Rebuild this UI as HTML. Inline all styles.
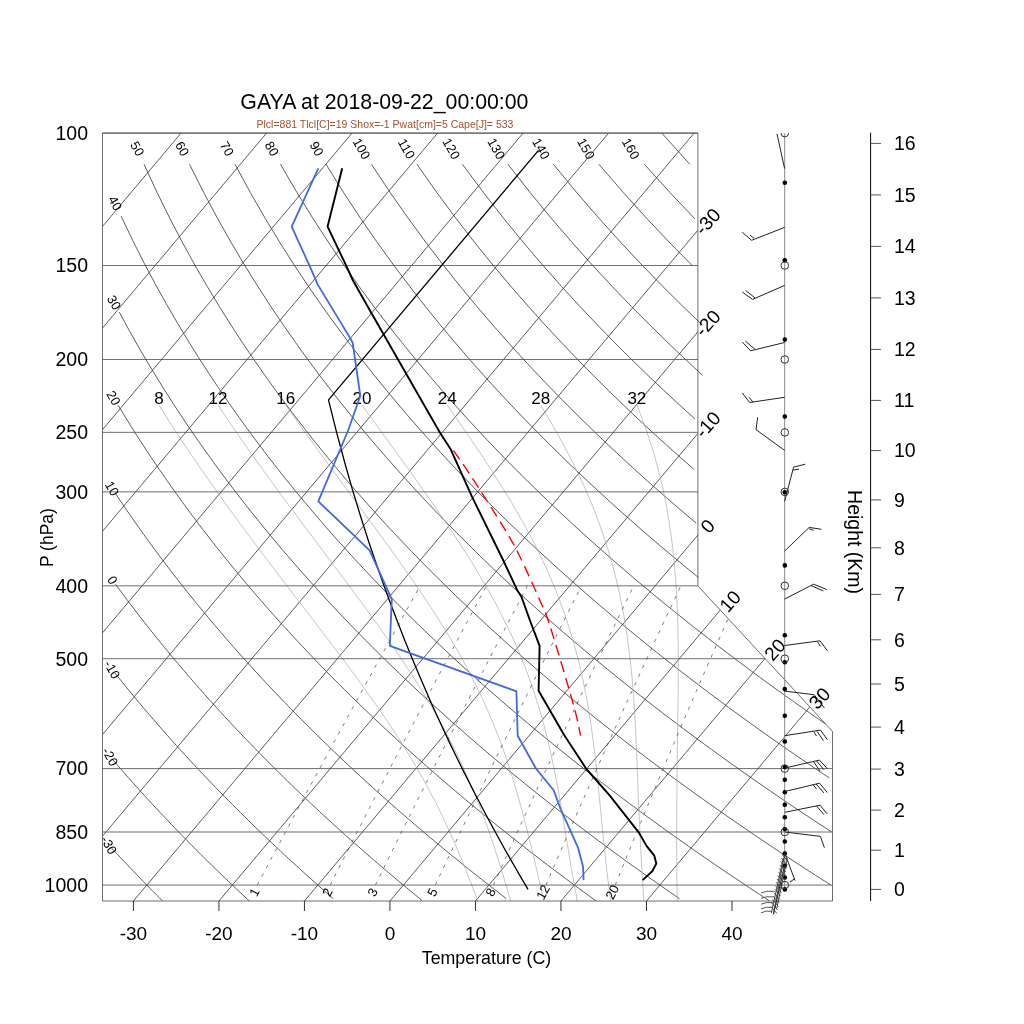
<!DOCTYPE html><html><head><meta charset="utf-8"><style>html,body{margin:0;padding:0;background:#fff;width:1024px;height:1024px;overflow:hidden}svg{display:block;will-change:transform}</style></head><body>
<svg width="1024" height="1024" viewBox="0 0 1024 1024" font-family="Liberation Sans, sans-serif">
<rect width="1024" height="1024" fill="#fff"/>
<g fill="none" stroke="#333" stroke-width="0.8">
<path d="M102.58 226.34 L180.94 133.22"/>
<path d="M102.62 327.90 L266.45 133.22"/>
<path d="M102.51 429.66 L351.96 133.22"/>
<path d="M102.55 531.22 L437.47 133.22"/>
<path d="M102.59 632.79 L522.98 133.22"/>
<path d="M102.63 734.35 L608.49 133.22"/>
<path d="M102.51 836.11 L694.00 133.22"/>
<path d="M133.42 901.00 L697.76 230.37"/>
<path d="M218.93 901.00 L697.80 331.93"/>
<path d="M304.44 901.00 L697.84 433.50"/>
<path d="M389.95 901.00 L697.89 535.06"/>
<path d="M475.46 901.00 L720.22 610.13"/>
<path d="M560.96 901.00 L765.02 658.51"/>
<path d="M646.47 901.00 L809.65 707.09"/>
<path d="M110.69 847.01 L114.06 850.66 L117.41 854.27 L120.74 857.84 L124.06 861.37 L127.36 864.86 L130.64 868.32 L133.91 871.74 L137.16 875.12 L140.40 878.47 L143.62 881.78 L146.82 885.07 L150.01 888.32 L153.19 891.53 L156.35 894.72 L159.50 897.87 L162.63 901.00"/>
<path d="M112.25 759.12 L116.35 763.89 L120.42 768.59 L124.47 773.22 L128.49 777.79 L132.49 782.29 L136.47 786.74 L140.42 791.12 L144.34 795.45 L148.25 799.71 L152.13 803.93 L155.99 808.09 L159.82 812.20 L163.64 816.25 L167.43 820.26 L171.20 824.22 L174.95 828.13 L178.68 831.99 L182.39 835.81 L186.08 839.59 L189.75 843.32 L193.40 847.01 L197.03 850.66 L200.64 854.27 L204.24 857.84 L207.81 861.37 L211.37 864.86 L214.91 868.32 L218.43 871.74 L221.93 875.12 L225.41 878.47 L228.88 881.78 L232.33 885.07 L235.77 888.32 L239.19 891.53 L242.59 894.72 L245.97 897.87 L249.34 901.00"/>
<path d="M114.72 672.77 L119.67 678.97 L124.58 685.05 L129.46 691.02 L134.30 696.88 L139.10 702.64 L143.87 708.30 L148.60 713.87 L153.30 719.34 L157.97 724.72 L162.60 730.01 L167.20 735.22 L171.76 740.34 L176.30 745.39 L180.80 750.36 L185.27 755.26 L189.72 760.08 L194.13 764.84 L198.52 769.52 L202.87 774.14 L207.20 778.69 L211.50 783.19 L215.77 787.62 L220.02 791.99 L224.24 796.30 L228.44 800.56 L232.61 804.76 L236.75 808.91 L240.87 813.01 L244.96 817.06 L249.03 821.06 L253.08 825.00 L257.11 828.91 L261.11 832.76 L265.09 836.57 L269.04 840.34 L272.98 844.06 L276.89 847.74 L280.78 851.38 L284.65 854.99 L288.50 858.55 L292.33 862.07 L296.14 865.55 L299.93 869.00 L303.70 872.42 L307.45 875.79 L311.18 879.14 L314.89 882.44 L318.58 885.72 L322.26 888.96 L325.91 892.17 L329.55 895.35 L333.17 898.50"/>
<path d="M115.50 584.20 L121.46 592.30 L127.37 600.21 L133.22 607.93 L139.02 615.48 L144.76 622.85 L150.45 630.06 L156.09 637.11 L161.68 644.01 L167.23 650.78 L172.72 657.40 L178.17 663.89 L183.57 670.26 L188.93 676.50 L194.24 682.63 L199.51 688.64 L204.74 694.55 L209.92 700.35 L215.07 706.05 L220.18 711.65 L225.24 717.16 L230.27 722.57 L235.26 727.90 L240.22 733.14 L245.13 738.30 L250.02 743.38 L254.86 748.38 L259.68 753.31 L264.46 758.16 L269.20 762.94 L273.92 767.65 L278.60 772.30 L283.25 776.88 L287.87 781.40 L292.46 785.85 L297.02 790.25 L301.55 794.58 L306.05 798.86 L310.53 803.09 L314.97 807.26 L319.39 811.38 L323.78 815.45 L328.14 819.46 L332.48 823.43 L336.79 827.35 L341.08 831.22 L345.34 835.05 L349.58 838.84 L353.79 842.58 L357.98 846.28 L362.15 849.93 L366.29 853.55 L370.41 857.13 L374.50 860.66 L378.58 864.16 L382.63 867.63 L386.66 871.05 L390.67 874.45 L394.65 877.80 L398.62 881.12 L402.57 884.41 L406.49 887.67 L410.40 890.89 L414.28 894.08 L418.15 897.25 L422.00 900.38"/>
<path d="M115.84 494.06 L122.98 504.70 L130.04 515.00 L137.02 524.99 L143.92 534.68 L150.74 544.09 L157.49 553.24 L164.17 562.14 L170.78 570.80 L177.31 579.24 L183.78 587.47 L190.19 595.49 L196.53 603.32 L202.81 610.97 L209.02 618.44 L215.18 625.75 L221.28 632.90 L227.32 639.89 L233.31 646.74 L239.24 653.44 L245.12 660.01 L250.94 666.45 L256.72 672.77 L262.45 678.97 L268.12 685.05 L273.75 691.02 L279.33 696.88 L284.87 702.64 L290.36 708.30 L295.81 713.87 L301.22 719.34 L306.58 724.72 L311.90 730.01 L317.18 735.22 L322.42 740.34 L327.62 745.39 L332.79 750.36 L337.91 755.26 L343.00 760.08 L348.06 764.84 L353.08 769.52 L358.06 774.14 L363.01 778.69 L367.92 783.19 L372.80 787.62 L377.65 791.99 L382.47 796.30 L387.26 800.56 L392.01 804.76 L396.73 808.91 L401.43 813.01 L406.09 817.06 L410.73 821.06 L415.34 825.00 L419.92 828.91 L424.47 832.76 L428.99 836.57 L433.49 840.34 L437.96 844.06 L442.41 847.74 L446.83 851.38 L451.22 854.99 L455.59 858.55 L459.94 862.07 L464.26 865.55 L468.56 869.00 L472.83 872.42 L477.08 875.79 L481.31 879.14 L485.51 882.44 L489.70 885.72 L493.86 888.96 L498.00 892.17 L502.12 895.35 L506.21 898.50"/>
<path d="M118.03 405.12 L126.49 419.02 L134.85 432.35 L143.09 445.16 L151.22 457.48 L159.25 469.36 L167.18 480.82 L175.00 491.89 L182.73 502.60 L190.36 512.97 L197.90 523.02 L205.35 532.76 L212.71 542.23 L219.99 551.43 L227.19 560.38 L234.30 569.09 L241.33 577.57 L248.29 585.84 L255.18 593.90 L261.99 601.77 L268.73 609.46 L275.40 616.96 L282.01 624.30 L288.54 631.48 L295.02 638.50 L301.43 645.38 L307.79 652.11 L314.08 658.71 L320.31 665.18 L326.49 671.52 L332.62 677.74 L338.68 683.84 L344.70 689.83 L350.66 695.72 L356.58 701.50 L362.44 707.18 L368.26 712.76 L374.03 718.25 L379.75 723.65 L385.42 728.96 L391.05 734.18 L396.64 739.32 L402.19 744.39 L407.69 749.37 L413.15 754.28 L418.57 759.12 L423.95 763.89 L429.29 768.59 L434.60 773.22 L439.86 777.79 L445.09 782.29 L450.28 786.74 L455.44 791.12 L460.56 795.45 L465.65 799.71 L470.71 803.93 L475.73 808.09 L480.72 812.20 L485.67 816.25 L490.60 820.26 L495.49 824.22 L500.35 828.13 L505.19 831.99 L509.99 835.81 L514.77 839.59 L519.51 843.32 L524.23 847.01 L528.92 850.66 L533.58 854.27 L538.22 857.84 L542.82 861.37 L547.41 864.86 L551.96 868.32 L556.50 871.74 L561.00 875.12 L565.48 878.47 L569.94 881.78 L574.37 885.07 L578.78 888.32 L583.17 891.53 L587.53 894.72 L591.87 897.87 L596.19 901.00"/>
<path d="M119.27 312.12 L129.26 330.47 L139.09 347.85 L148.77 364.34 L158.31 380.05 L167.70 395.03 L176.95 409.35 L186.07 423.08 L195.05 436.25 L203.90 448.91 L212.63 461.09 L221.24 472.84 L229.73 484.18 L238.10 495.14 L246.37 505.74 L254.53 516.01 L262.58 525.97 L270.54 535.63 L278.39 545.02 L286.15 554.14 L293.82 563.02 L301.40 571.66 L308.89 580.07 L316.30 588.28 L323.63 596.28 L330.87 604.10 L338.04 611.73 L345.14 619.18 L352.15 626.47 L359.10 633.60 L365.98 640.58 L372.79 647.41 L379.53 654.10 L386.21 660.66 L392.82 667.09 L399.38 673.40 L405.87 679.58 L412.30 685.65 L418.68 691.61 L425.00 697.46 L431.26 703.21 L437.47 708.86 L443.63 714.42 L449.74 719.88 L455.80 725.25 L461.80 730.53 L467.76 735.73 L473.67 740.85 L479.54 745.89 L485.36 750.85 L491.13 755.74 L496.86 760.56 L502.55 765.31 L508.20 769.99 L513.80 774.60 L519.37 779.15 L524.89 783.63 L530.38 788.06 L535.83 792.42 L541.24 796.73 L546.61 800.98 L551.95 805.18 L557.25 809.33 L562.52 813.42 L567.75 817.46 L572.94 821.45 L578.11 825.40 L583.24 829.29 L588.34 833.14 L593.41 836.95 L598.44 840.71 L603.45 844.43 L608.42 848.11 L613.37 851.75 L618.29 855.34 L623.17 858.90 L628.03 862.42 L632.86 865.90 L637.67 869.35 L642.44 872.75 L647.19 876.13 L651.91 879.47 L656.61 882.77 L661.28 886.05 L665.93 889.28 L670.55 892.49 L675.14 895.67 L679.71 898.82"/>
<path d="M121.17 216.28 L132.82 240.66 L144.29 263.35 L155.57 284.56 L166.66 304.48 L177.56 323.25 L188.27 341.01 L198.80 357.84 L209.16 373.85 L219.34 389.12 L229.36 403.70 L239.22 417.66 L248.93 431.04 L258.48 443.90 L267.89 456.27 L277.17 468.19 L286.30 479.69 L295.31 490.80 L304.19 501.54 L312.95 511.94 L321.59 522.02 L330.12 531.80 L338.54 541.30 L346.85 550.52 L355.06 559.49 L363.17 568.23 L371.18 576.73 L379.10 585.02 L386.92 593.10 L394.66 600.99 L402.31 608.69 L409.88 616.22 L417.36 623.58 L424.77 630.77 L432.10 637.81 L439.35 644.70 L446.53 651.44 L453.64 658.06 L460.68 664.53 L467.65 670.89 L474.55 677.12 L481.39 683.24 L488.17 689.24 L494.88 695.13 L501.54 700.92 L508.13 706.61 L514.67 712.21 L521.15 717.70 L527.58 723.11 L533.95 728.43 L540.27 733.66 L546.54 738.81 L552.76 743.89 L558.93 748.88 L565.05 753.80 L571.12 758.64 L577.15 763.42 L583.13 768.12 L589.07 772.76 L594.96 777.33 L600.81 781.85 L606.61 786.29 L612.38 790.68 L618.10 795.02 L623.79 799.29 L629.43 803.51 L635.04 807.67 L640.61 811.79 L646.14 815.85 L651.63 819.86 L657.09 823.82 L662.51 827.74 L667.90 831.61 L673.26 835.43 L678.58 839.21 L683.86 842.95 L689.12 846.64 L694.34 850.30 L699.53 853.91 L704.69 857.48 L709.82 861.02 L714.92 864.51 L719.99 867.97 L725.03 871.40 L730.04 874.78 L735.02 878.14 L739.97 881.45 L744.90 884.74 L749.80 887.99 L754.67 891.21 L759.52 894.40 L764.34 897.56 L769.13 900.69"/>
<path d="M144.03 164.25 L157.15 192.66 L170.05 218.80 L182.71 243.00 L195.13 265.53 L207.32 286.61 L219.27 306.41 L231.00 325.07 L242.51 342.73 L253.81 359.48 L264.91 375.41 L275.81 390.60 L286.52 405.12 L297.05 419.02 L307.41 432.35 L317.60 445.16 L327.63 457.48 L337.50 469.36 L347.22 480.82 L356.80 491.89 L366.24 502.60 L375.55 512.97 L384.73 523.02 L393.78 532.76 L402.71 542.23 L411.52 551.43 L420.22 560.38 L428.81 569.09 L437.30 577.57 L445.68 585.84 L453.97 593.90 L462.15 601.77 L470.24 609.46 L478.25 616.96 L486.16 624.30 L493.99 631.48 L501.73 638.50 L509.39 645.38 L516.97 652.11 L524.48 658.71 L531.91 665.18 L539.26 671.52 L546.55 677.74 L553.77 683.84 L560.91 689.83 L567.99 695.72 L575.01 701.50 L581.96 707.18 L588.85 712.76 L595.69 718.25 L602.46 723.65 L609.17 728.96 L615.83 734.18 L622.43 739.32 L628.98 744.39 L635.47 749.37 L641.92 754.28 L648.31 759.12 L654.65 763.89 L660.94 768.59 L667.19 773.22 L673.39 777.79 L679.54 782.29 L685.65 786.74 L691.71 791.12 L697.73 795.45 L703.70 799.71 L709.64 803.93 L715.53 808.09 L721.39 812.20 L727.20 816.25 L732.97 820.26 L738.71 824.22 L744.41 828.13 L750.07 831.99 L755.69 835.81 L761.28 839.59 L766.83 843.32 L772.35 847.01 L777.83 850.66 L783.28 854.27 L788.70 857.84 L794.08 861.37 L799.44 864.86 L804.76 868.32 L810.05 871.74 L815.31 875.12 L820.53 878.47 L825.73 881.78 L830.90 885.07"/>
<path d="M189.51 164.25 L203.78 192.66 L217.76 218.80 L231.44 243.00 L244.84 265.53 L257.95 286.61 L270.79 306.41 L283.36 325.07 L295.69 342.73 L307.78 359.48 L319.63 375.41 L331.27 390.60 L342.69 405.12 L353.91 419.02 L364.93 432.35 L375.77 445.16 L386.43 457.48 L396.92 469.36 L407.24 480.82 L417.40 491.89 L427.41 502.60 L437.28 512.97 L447.00 523.02 L456.59 532.76 L466.04 542.23 L475.37 551.43 L484.57 560.38 L493.65 569.09 L502.62 577.57 L511.48 585.84 L520.23 593.90 L528.87 601.77 L537.42 609.46 L545.86 616.96 L554.21 624.30 L562.47 631.48 L570.63 638.50 L578.71 645.38 L586.70 652.11 L594.61 658.71 L602.44 665.18 L610.19 671.52 L617.86 677.74 L625.46 683.84 L632.98 689.83 L640.44 695.72 L647.82 701.50 L655.14 707.18 L662.39 712.76 L669.57 718.25 L676.69 723.65 L683.75 728.96 L690.75 734.18 L697.69 739.32 L704.58 744.39 L711.40 749.37 L718.17 754.28 L724.89 759.12 L731.55 763.89 L738.16 768.59 L744.72 773.22 L751.23 777.79 L757.69 782.29 L764.10 786.74 L770.47 791.12 L776.78 795.45 L783.06 799.71 L789.28 803.93 L795.47 808.09 L801.61 812.20 L807.71 816.25 L813.76 820.26 L819.78 824.22 L825.76 828.13 L831.69 831.99"/>
<path d="M235.00 164.25 L250.41 192.66 L265.47 218.80 L280.17 243.00 L294.54 265.53 L308.58 286.61 L322.30 306.41 L335.73 325.07 L348.87 342.73 L361.74 359.48 L374.35 375.41 L386.72 390.60 L398.85 405.12 L410.76 419.02 L422.45 432.35 L433.94 445.16 L445.23 457.48 L456.33 469.36 L467.25 480.82 L478.00 491.89 L488.59 502.60 L499.01 512.97 L509.28 523.02 L519.39 532.76 L529.37 542.23 L539.21 551.43 L548.91 560.38 L558.49 569.09 L567.94 577.57 L577.28 585.84 L586.49 593.90 L595.59 601.77 L604.59 609.46 L613.48 616.96 L622.26 624.30 L630.95 631.48 L639.53 638.50 L648.03 645.38 L656.43 652.11 L664.74 658.71 L672.97 665.18 L681.11 671.52 L689.17 677.74 L697.15 683.84 L705.05 689.83 L712.88 695.72 L720.63 701.50 L728.31 707.18 L735.92 712.76 L743.46 718.25 L750.93 723.65 L758.34 728.96 L765.68 734.18 L772.96 739.32 L780.17 744.39 L787.33 749.37 L794.43 754.28 L801.47 759.12 L808.45 763.89 L815.38 768.59 L822.25 773.22 L829.07 777.79"/>
<path d="M280.48 164.25 L297.04 192.66 L313.18 218.80 L328.91 243.00 L344.24 265.53 L359.20 286.61 L373.81 306.41 L388.09 325.07 L402.05 342.73 L415.71 359.48 L429.08 375.41 L442.18 390.60 L455.02 405.12 L467.61 419.02 L479.97 432.35 L492.11 445.16 L504.03 457.48 L515.75 469.36 L527.27 480.82 L538.60 491.89 L549.76 502.60 L560.74 512.97 L571.55 523.02 L582.20 532.76 L592.70 542.23 L603.05 551.43 L613.26 560.38 L623.33 569.09 L633.27 577.57 L643.07 585.84 L652.75 593.90 L662.32 601.77 L671.76 609.46 L681.09 616.96 L690.31 624.30 L699.43 631.48 L708.44 638.50 L717.35 645.38 L726.16 652.11 L734.88 658.71 L743.50 665.18 L752.04 671.52 L760.48 677.74 L768.85 683.84 L777.13 689.83 L785.32 695.72 L793.44 701.50 L801.49 707.18 L809.45 712.76 L817.35 718.25 L825.17 723.65"/>
<path d="M325.97 164.25 L343.67 192.66 L360.89 218.80 L377.64 243.00 L393.94 265.53 L409.83 286.61 L425.33 306.41 L440.45 325.07 L455.23 342.73 L469.67 359.48 L483.80 375.41 L497.63 390.60 L511.18 405.12 L524.47 419.02 L537.49 432.35 L550.28 445.16 L562.83 457.48 L575.16 469.36 L587.29 480.82 L599.20 491.89 L610.93 502.60 L622.47 512.97 L633.82 523.02 L645.01 532.76 L656.03 542.23 L666.90 551.43 L677.61 560.38 L688.17 569.09 L698.59 577.57"/>
<path d="M371.45 164.25 L390.30 192.66 L408.60 218.80 L426.37 243.00 L443.65 265.53 L460.46 286.61 L476.84 306.41 L492.82 325.07 L508.41 342.73 L523.64 359.48 L538.52 375.41 L553.09 390.60 L567.35 405.12 L581.32 419.02 L595.02 432.35 L608.45 445.16 L621.63 457.48 L634.58 469.36 L647.30 480.82 L659.80 491.89 L672.10 502.60 L684.19 512.97 L696.10 523.02"/>
<path d="M416.93 164.25 L436.93 192.66 L456.31 218.80 L475.10 243.00 L493.35 265.53 L511.09 286.61 L528.36 306.41 L545.18 325.07 L561.59 342.73 L577.60 359.48 L593.25 375.41 L608.55 390.60 L623.52 405.12 L638.17 419.02 L652.54 432.35 L666.62 445.16 L680.44 457.48 L694.00 469.36"/>
<path d="M462.42 164.25 L483.56 192.66 L504.02 218.80 L523.83 243.00 L543.05 265.53 L561.72 286.61 L579.87 306.41 L597.54 325.07 L614.76 342.73 L631.57 359.48 L647.97 375.41 L664.00 390.60 L679.68 405.12 L695.03 419.02"/>
<path d="M507.90 164.25 L530.19 192.66 L551.73 218.80 L572.56 243.00 L592.75 265.53 L612.35 286.61 L631.38 306.41 L649.90 325.07 L667.94 342.73 L685.53 359.48 L702.69 375.41"/>
<path d="M553.38 164.25 L576.82 192.66 L599.44 218.80 L621.29 243.00 L642.45 265.53 L662.97 286.61 L682.90 306.41 L702.27 325.07"/>
<path d="M598.87 164.25 L623.45 192.66 L647.14 218.80 L670.02 243.00 L692.16 265.53"/>
<path d="M644.35 164.25 L670.08 192.66 L694.85 218.80"/>
<path d="M661.82 133.12 L689.83 164.25"/>
</g>
<g fill="none" stroke="#aaa" stroke-width="0.7">
<path d="M677.40 901.00 L677.30 897.87 L677.21 894.72 L677.13 891.53 L677.05 888.32 L676.98 885.07 L676.92 881.78 L676.87 878.47 L676.82 875.12 L676.77 871.74 L676.73 868.32 L676.69 864.86 L676.68 861.37 L676.66 857.84 L676.65 854.27 L676.64 850.66 L676.64 847.01 L676.64 843.32 L676.64 839.59 L676.65 835.81 L676.66 831.99 L676.68 828.13 L676.70 824.22 L676.72 820.26 L676.75 816.25 L676.78 812.20 L676.81 808.09 L676.84 803.93 L676.87 799.71 L676.91 795.45 L676.94 791.12 L676.97 786.74 L676.99 782.29 L677.06 777.79 L677.09 773.22 L677.12 768.59 L677.14 763.89 L677.19 759.12 L677.26 754.28 L677.33 749.37 L677.40 744.39 L677.48 739.32 L677.56 734.18 L677.65 728.96 L677.73 723.65 L677.82 718.25 L677.90 712.76 L677.99 707.18 L678.07 701.50 L678.14 695.72 L678.21 689.83 L678.23 683.84 L678.27 677.74 L678.30 671.52 L678.31 665.18 L678.29 658.71 L678.26 652.11 L678.19 645.38 L678.10 638.50 L677.96 631.48 L677.79 624.30 L677.57 616.96 L677.29 609.46 L676.95 601.77 L676.54 593.90 L676.05 585.84 L675.47 577.57 L674.78 569.09 L673.98 560.38 L673.10 551.43 L672.03 542.23 L670.65 532.76 L669.27 523.02 L667.62 512.97 L665.72 502.60 L663.54 491.89 L661.04 480.82 L658.20 469.36 L654.95 457.48 L651.24 445.16 L647.06 432.35 L642.28 419.02 L636.88 405.12"/>
<path d="M643.92 901.00 L643.68 897.87 L643.44 894.72 L643.22 891.53 L643.00 888.32 L642.78 885.07 L642.57 881.78 L642.36 878.47 L642.16 875.12 L641.96 871.74 L641.76 868.32 L641.56 864.86 L641.40 861.37 L641.21 857.84 L641.03 854.27 L640.85 850.66 L640.67 847.01 L640.49 843.32 L640.31 839.59 L640.13 835.81 L639.95 831.99 L639.77 828.13 L639.59 824.22 L639.40 820.26 L639.21 816.25 L639.01 812.20 L638.81 808.09 L638.64 803.93 L638.46 799.71 L638.29 795.45 L638.11 791.12 L637.99 786.74 L637.82 782.29 L637.65 777.79 L637.48 773.22 L637.31 768.59 L637.13 763.89 L636.94 759.12 L636.75 754.28 L636.54 749.37 L636.33 744.39 L636.10 739.32 L635.85 734.18 L635.59 728.96 L635.31 723.65 L635.01 718.25 L634.69 712.76 L634.33 707.18 L633.95 701.50 L633.54 695.72 L633.08 689.83 L632.59 683.84 L632.05 677.74 L631.41 671.52 L630.75 665.18 L630.04 658.71 L629.25 652.11 L628.40 645.38 L627.45 638.50 L626.42 631.48 L625.29 624.30 L624.11 616.96 L622.73 609.46 L621.22 601.77 L619.57 593.90 L617.71 585.84 L615.75 577.57 L613.57 569.09 L611.17 560.38 L608.55 551.43 L605.67 542.23 L602.52 532.76 L599.07 523.02 L595.29 512.97 L591.14 502.60 L586.59 491.89 L581.59 480.82 L576.15 469.36 L570.20 457.48 L563.72 445.16 L556.66 432.35 L548.99 419.02 L540.68 405.12"/>
<path d="M610.62 901.00 L610.20 897.87 L609.79 894.72 L609.38 891.53 L608.98 888.32 L608.58 885.07 L608.18 881.78 L607.78 878.47 L607.38 875.12 L606.98 871.74 L606.58 868.32 L606.20 864.86 L605.80 861.37 L605.41 857.84 L605.00 854.27 L604.60 850.66 L604.21 847.01 L603.83 843.32 L603.45 839.59 L603.08 835.81 L602.71 831.99 L602.33 828.13 L601.96 824.22 L601.58 820.26 L601.20 816.25 L600.82 812.20 L600.43 808.09 L600.03 803.93 L599.62 799.71 L599.20 795.45 L598.82 791.12 L598.38 786.74 L597.94 782.29 L597.48 777.79 L597.00 773.22 L596.51 768.59 L595.99 763.89 L595.45 759.12 L594.88 754.28 L594.29 749.37 L593.67 744.39 L593.01 739.32 L592.31 734.18 L591.58 728.96 L590.80 723.65 L589.97 718.25 L589.09 712.76 L588.16 707.18 L587.16 701.50 L586.10 695.72 L584.97 689.83 L583.75 683.84 L582.45 677.74 L581.06 671.52 L579.57 665.18 L577.97 658.71 L576.26 652.11 L574.42 645.38 L572.44 638.50 L570.30 631.48 L568.04 624.30 L565.60 616.96 L562.97 609.46 L560.15 601.77 L557.12 593.90 L553.86 585.84 L550.37 577.57 L546.61 569.09 L542.59 560.38 L538.27 551.43 L533.63 542.23 L528.66 532.76 L523.34 523.02 L517.65 512.97 L511.61 502.60 L505.14 491.89 L498.26 480.82 L490.93 469.36 L483.16 457.48 L474.92 445.16 L466.19 432.35 L456.98 419.02 L447.25 405.12"/>
<path d="M577.29 901.00 L576.72 897.87 L576.15 894.72 L575.56 891.53 L574.97 888.32 L574.37 885.07 L573.77 881.78 L573.16 878.47 L572.56 875.12 L571.96 871.74 L571.36 868.32 L570.75 864.86 L570.15 861.37 L569.58 857.84 L568.99 854.27 L568.39 850.66 L567.79 847.01 L567.18 843.32 L566.57 839.59 L565.95 835.81 L565.33 831.99 L564.70 828.13 L564.06 824.22 L563.40 820.26 L562.73 816.25 L562.05 812.20 L561.35 808.09 L560.64 803.93 L559.90 799.71 L559.14 795.45 L558.36 791.12 L557.54 786.74 L556.75 782.29 L555.89 777.79 L554.99 773.22 L554.06 768.59 L553.09 763.89 L552.08 759.12 L551.02 754.28 L549.92 749.37 L548.76 744.39 L547.54 739.32 L546.27 734.18 L544.93 728.96 L543.51 723.65 L542.03 718.25 L540.46 712.76 L538.81 707.18 L537.06 701.50 L535.22 695.72 L533.25 689.83 L531.21 683.84 L529.05 677.74 L526.72 671.52 L524.28 665.18 L521.70 658.71 L518.96 652.11 L516.06 645.38 L512.98 638.50 L509.73 631.48 L506.28 624.30 L502.64 616.96 L498.78 609.46 L494.69 601.77 L490.38 593.90 L485.81 585.84 L481.00 577.57 L475.91 569.09 L470.55 560.38 L464.90 551.43 L458.96 542.23 L452.71 532.76 L446.19 523.02 L439.32 512.97 L432.13 502.60 L424.60 491.89 L416.73 480.82 L408.51 469.36 L399.95 457.48 L391.02 445.16 L381.72 432.35 L372.06 419.02 L362.01 405.12"/>
<path d="M543.81 901.00 L543.09 897.87 L542.37 894.72 L541.64 891.53 L540.91 888.32 L540.17 885.07 L539.42 881.78 L538.67 878.47 L537.91 875.12 L537.13 871.74 L536.34 868.32 L535.53 864.86 L534.75 861.37 L533.93 857.84 L533.09 854.27 L532.20 850.66 L531.30 847.01 L530.38 843.32 L529.45 839.59 L528.51 835.81 L527.54 831.99 L526.56 828.13 L525.56 824.22 L524.53 820.26 L523.48 816.25 L522.40 812.20 L521.30 808.09 L520.16 803.93 L518.99 799.71 L517.79 795.45 L516.55 791.12 L515.26 786.74 L513.94 782.29 L512.56 777.79 L511.14 773.22 L509.66 768.59 L508.13 763.89 L506.53 759.12 L504.88 754.28 L503.15 749.37 L501.35 744.39 L499.47 739.32 L497.51 734.18 L495.46 728.96 L493.32 723.65 L491.08 718.25 L488.74 712.76 L486.29 707.18 L483.72 701.50 L481.04 695.72 L478.23 689.83 L475.28 683.84 L472.20 677.74 L468.96 671.52 L465.58 665.18 L462.04 658.71 L458.33 652.11 L454.45 645.38 L450.39 638.50 L446.14 631.48 L441.70 624.30 L437.07 616.96 L432.23 609.46 L427.18 601.77 L421.91 593.90 L416.43 585.84 L410.72 577.57 L404.78 569.09 L398.61 560.38 L392.20 551.43 L385.54 542.23 L378.65 532.76 L371.50 523.02 L364.10 512.97 L356.52 502.60 L348.61 491.89 L340.44 480.82 L332.01 469.36 L323.31 457.48 L314.33 445.16 L305.08 432.35 L295.56 419.02 L285.75 405.12"/>
<path d="M510.70 901.00 L509.77 897.87 L508.83 894.72 L507.89 891.53 L506.93 888.32 L505.97 885.07 L504.98 881.78 L503.99 878.47 L502.97 875.12 L501.94 871.74 L500.88 868.32 L499.84 864.86 L498.76 861.37 L497.65 857.84 L496.53 854.27 L495.37 850.66 L494.19 847.01 L492.98 843.32 L491.74 839.59 L490.46 835.81 L489.16 831.99 L487.81 828.13 L486.43 824.22 L485.00 820.26 L483.53 816.25 L482.00 812.20 L480.40 808.09 L478.75 803.93 L477.07 799.71 L475.33 795.45 L473.54 791.12 L471.69 786.74 L469.79 782.29 L467.83 777.79 L465.80 773.22 L463.70 768.59 L461.53 763.89 L459.28 759.12 L456.95 754.28 L454.54 749.37 L452.03 744.39 L449.44 739.32 L446.77 734.18 L443.99 728.96 L441.10 723.65 L438.10 718.25 L434.99 712.76 L431.76 707.18 L428.41 701.50 L424.94 695.72 L421.33 689.83 L417.59 683.84 L413.72 677.74 L409.70 671.52 L405.53 665.18 L401.22 658.71 L396.75 652.11 L392.12 645.38 L387.33 638.50 L382.38 631.48 L377.27 624.30 L371.98 616.96 L366.53 609.46 L360.89 601.77 L355.09 593.90 L349.10 585.84 L342.93 577.57 L336.58 569.09 L330.05 560.38 L323.33 551.43 L316.42 542.23 L309.31 532.76 L302.02 523.02 L294.53 512.97 L286.84 502.60 L278.95 491.89 L270.86 480.82 L262.57 469.36 L254.07 457.48 L245.37 445.16 L236.46 432.35 L227.34 419.02 L218.01 405.12"/>
<path d="M477.79 901.00 L476.61 897.87 L475.43 894.72 L474.22 891.53 L473.00 888.32 L471.76 885.07 L470.50 881.78 L469.21 878.47 L467.89 875.12 L466.55 871.74 L465.17 868.32 L463.81 864.86 L462.39 861.37 L460.93 857.84 L459.45 854.27 L457.93 850.66 L456.37 847.01 L454.78 843.32 L453.15 839.59 L451.47 835.81 L449.76 831.99 L447.99 828.13 L446.18 824.22 L444.32 820.26 L442.41 816.25 L440.44 812.20 L438.42 808.09 L436.34 803.93 L434.19 799.71 L431.98 795.45 L429.70 791.12 L427.35 786.74 L424.93 782.29 L422.43 777.79 L419.85 773.22 L417.19 768.59 L414.44 763.89 L411.60 759.12 L408.67 754.28 L405.68 749.37 L402.57 744.39 L399.32 739.32 L395.98 734.18 L392.54 728.96 L389.00 723.65 L385.35 718.25 L381.60 712.76 L377.73 707.18 L373.75 701.50 L369.66 695.72 L365.45 689.83 L361.12 683.84 L356.67 677.74 L352.09 671.52 L347.39 665.18 L342.56 658.71 L337.61 652.11 L332.52 645.38 L327.30 638.50 L321.95 631.48 L316.47 624.30 L310.84 616.96 L305.08 609.46 L299.19 601.77 L293.15 593.90 L286.97 585.84 L280.65 577.57 L274.18 569.09 L267.57 560.38 L260.81 551.43 L253.91 542.23 L246.85 532.76 L239.64 523.02 L232.28 512.97 L224.77 502.60 L217.10 491.89 L209.27 480.82 L201.29 469.36 L193.15 457.48 L184.85 445.16 L176.39 432.35 L167.77 419.02 L159.00 405.12"/>
</g>
<defs><clipPath id="cp"><path d="M102.50 901.00 L832.50 901.00 L832.50 731.46 L697.90 585.88 L697.90 133.10 L102.50 133.10 Z"/></clipPath><clipPath id="cw"><rect x="600" y="133.1" width="300" height="800"/></clipPath></defs>
<g fill="none" stroke="#444" stroke-width="0.7" stroke-dasharray="3.5 6" clip-path="url(#cp)">
<path d="M615.23 885.07 L621.99 868.32 L629.17 850.66 L636.81 831.99 L644.99 812.20 L653.76 791.12 L663.21 768.59 L673.46 744.39 L684.63 718.25 L696.89 689.83 L710.46 658.71 L725.64 624.30 L742.81 585.84"/>
<path d="M545.94 885.07 L553.14 868.32 L560.78 850.66 L568.91 831.99 L577.59 812.20 L586.89 791.12 L596.91 768.59 L607.75 744.39 L619.56 718.25 L632.50 689.83 L646.81 658.71 L662.79 624.30 L680.83 585.84"/>
<path d="M493.43 885.07 L500.96 868.32 L508.94 850.66 L517.42 831.99 L526.48 812.20 L536.17 791.12 L546.61 768.59 L557.89 744.39 L570.17 718.25 L583.62 689.83 L598.47 658.71 L615.04 624.30 L633.73 585.84"/>
<path d="M435.32 885.07 L443.20 868.32 L451.55 850.66 L460.42 831.99 L469.88 812.20 L480.00 791.12 L490.88 768.59 L502.65 744.39 L515.43 718.25 L529.42 689.83 L544.86 658.71 L562.06 624.30 L581.45 585.84"/>
<path d="M375.42 885.07 L383.65 868.32 L392.37 850.66 L401.63 831.99 L411.49 812.20 L422.04 791.12 L433.37 768.59 L445.61 744.39 L458.90 718.25 L473.44 689.83 L489.47 658.71 L507.30 624.30 L527.39 585.84"/>
<path d="M330.17 885.07 L338.67 868.32 L347.65 850.66 L357.19 831.99 L367.35 812.20 L378.21 791.12 L389.88 768.59 L402.47 744.39 L416.13 718.25 L431.07 689.83 L447.53 658.71 L465.83 624.30 L486.43 585.84"/>
<path d="M257.21 885.07 L266.10 868.32 L275.51 850.66 L285.49 831.99 L296.11 812.20 L307.46 791.12 L319.63 768.59 L332.77 744.39 L347.02 718.25 L362.58 689.83 L379.71 658.71 L398.74 624.30 L420.14 585.84"/>
</g>
<g fill="none" stroke="#4a4a4a" stroke-width="0.8">
<path d="M102.50 885.07 H832.50"/>
<path d="M102.50 831.99 H832.50"/>
<path d="M102.50 768.59 H832.50"/>
<path d="M102.50 658.71 H764.88"/>
<path d="M102.50 585.84 H697.90"/>
<path d="M102.50 491.89 H697.90"/>
<path d="M102.50 432.35 H697.90"/>
<path d="M102.50 359.48 H697.90"/>
<path d="M102.50 265.53 H697.90"/>
<path d="M102.50 133.12 H697.90"/>
<path d="M102.50 901.00 L832.50 901.00 L832.50 731.46 L697.90 585.88 L697.90 133.10 L102.50 133.10 Z"/>
</g>
<g fill="#000" font-size="19.5" text-anchor="end">
<text x="88" y="891.87">1000</text>
<text x="88" y="838.79">850</text>
<text x="88" y="775.39">700</text>
<text x="88" y="665.51">500</text>
<text x="88" y="592.64">400</text>
<text x="88" y="498.69">300</text>
<text x="88" y="439.15">250</text>
<text x="88" y="366.28">200</text>
<text x="88" y="272.33">150</text>
<text x="88" y="139.92">100</text>
</g>
<g fill="#000" font-size="19" text-anchor="middle">
<text x="133.42" y="940">-30</text>
<text x="218.93" y="940">-20</text>
<text x="304.44" y="940">-10</text>
<text x="389.95" y="940">0</text>
<text x="475.46" y="940">10</text>
<text x="560.96" y="940">20</text>
<text x="646.47" y="940">30</text>
<text x="731.98" y="940">40</text>
</g>
<g stroke="#333" stroke-width="1">
<path d="M133.42 901 V911"/>
<path d="M218.93 901 V911"/>
<path d="M304.44 901 V911"/>
<path d="M389.95 901 V911"/>
<path d="M475.46 901 V911"/>
<path d="M560.96 901 V911"/>
<path d="M646.47 901 V911"/>
<path d="M731.98 901 V911"/>
</g>
<g fill="#000" font-size="13" text-anchor="middle">
<text transform="translate(109.00 845.16) rotate(60)" y="4.6">-30</text>
<text transform="translate(110.19 756.70) rotate(60)" y="4.6">-20</text>
<text transform="translate(112.22 669.61) rotate(60)" y="4.6">-10</text>
<text transform="translate(112.49 580.05) rotate(60)" y="4.6">0</text>
<text transform="translate(112.23 488.56) rotate(60)" y="4.6">10</text>
<text transform="translate(113.73 397.86) rotate(60)" y="4.6">20</text>
<text transform="translate(114.20 302.40) rotate(60)" y="4.6">30</text>
<text transform="translate(115.25 203.11) rotate(60)" y="4.6">40</text>
<text transform="translate(137.37 148.69) rotate(60)" y="4.6">50</text>
<text transform="translate(182.24 148.69) rotate(60)" y="4.6">60</text>
<text transform="translate(227.11 148.69) rotate(60)" y="4.6">70</text>
<text transform="translate(271.98 148.69) rotate(60)" y="4.6">80</text>
<text transform="translate(316.86 148.69) rotate(60)" y="4.6">90</text>
<text transform="translate(361.73 148.69) rotate(60)" y="4.6">100</text>
<text transform="translate(406.60 148.69) rotate(60)" y="4.6">110</text>
<text transform="translate(451.47 148.69) rotate(60)" y="4.6">120</text>
<text transform="translate(496.34 148.69) rotate(60)" y="4.6">130</text>
<text transform="translate(541.21 148.69) rotate(60)" y="4.6">140</text>
<text transform="translate(586.09 148.69) rotate(60)" y="4.6">150</text>
<text transform="translate(630.95 148.69) rotate(60)" y="4.6">160</text>
</g>
<g fill="#000" font-size="17" text-anchor="middle">
<text x="636.88" y="404.12">32</text>
<text x="540.68" y="404.12">28</text>
<text x="447.25" y="404.12">24</text>
<text x="362.01" y="404.12">20</text>
<text x="285.75" y="404.12">16</text>
<text x="218.01" y="404.12">12</text>
<text x="159.00" y="404.12">8</text>
</g>
<g fill="#000" font-size="13" text-anchor="middle">
<text transform="translate(612.23 892.07) rotate(-63)" y="4.6">20</text>
<text transform="translate(542.94 892.07) rotate(-63)" y="4.6">12</text>
<text transform="translate(490.43 892.07) rotate(-63)" y="4.6">8</text>
<text transform="translate(432.32 892.07) rotate(-63)" y="4.6">5</text>
<text transform="translate(372.42 892.07) rotate(-63)" y="4.6">3</text>
<text transform="translate(327.17 892.07) rotate(-63)" y="4.6">2</text>
<text transform="translate(254.21 892.07) rotate(-63)" y="4.6">1</text>
</g>
<g fill="#000" font-size="19" text-anchor="middle">
<text transform="translate(707.46 221.37) rotate(-48)" y="6.8">-30</text>
<text transform="translate(707.50 322.93) rotate(-48)" y="6.8">-20</text>
<text transform="translate(707.54 424.50) rotate(-48)" y="6.8">-10</text>
<text transform="translate(707.59 526.06) rotate(-48)" y="6.8">0</text>
<text transform="translate(729.92 601.13) rotate(-48)" y="6.8">10</text>
<text transform="translate(774.72 649.51) rotate(-48)" y="6.8">20</text>
<text transform="translate(819.35 698.09) rotate(-48)" y="6.8">30</text>
</g>
<path d="M528.0 889.4 L525.5 885.1 L520.6 876.8 L515.7 868.3 L510.7 859.6 L505.6 850.7 L500.5 841.5 L495.3 832.0 L490.0 822.2 L484.6 812.2 L479.2 801.8 L473.6 791.1 L468.0 780.0 L462.2 768.6 L456.4 756.7 L450.4 744.4 L444.4 731.6 L438.2 718.2 L431.9 704.4 L425.5 689.8 L418.9 674.6 L412.3 658.7 L405.4 642.0 L398.5 624.3 L391.3 605.6 L384.0 585.8 L376.6 564.8 L368.9 542.2 L361.1 518.0 L353.1 491.9 L345.0 463.5 L336.6 432.4 L328.5 399.9 L538.5 150.3" fill="none" stroke="#000" stroke-width="1.3"/>
<path d="M342.2 168.3 L327.6 226.6 L346.2 265.7 L352.7 280.0 L371.8 313.7 L440.0 432.7 L450.7 449.3 L472.2 497.1 L503.1 560.0 L517.1 589.9 L521.6 597.1 L529.8 620.0 L539.6 645.9 L538.6 690.8 L564.0 734.8 L586.4 769.0 L609.4 795.2 L638.7 832.3 L646.5 845.9 L654.3 855.7 L656.3 863.5 L652.3 871.3 L642.6 880.1" fill="none" stroke="#000" stroke-width="1.9" stroke-linejoin="round"/>
<path d="M318.3 168.3 L291.7 226.6 L309.5 265.7 L317.6 284.4 L350.5 338.6 L352.7 343.0 L360.3 395.7 L348.3 430.0 L318.3 501.3 L369.6 550.4 L391.8 599.1 L389.8 645.8 L516.4 691.3 L517.7 735.8 L536.1 768.8 L553.7 790.3 L560.5 808.8 L570.3 830.3 L578.1 847.9 L583.0 866.4 L583.6 880.1" fill="none" stroke="#4169e1" stroke-width="1.8" stroke-linejoin="round"/>
<path d="M453.4 450.4 C456.3 454.6 462.1 462.5 470.6 475.5 C479.1 488.5 496.1 514.9 504.3 528.4 C512.5 541.9 513.8 544.4 519.7 556.3 C525.6 568.2 534.7 588.4 539.7 600.0 C544.8 611.6 544.4 608.6 550.0 626.0 C555.6 643.4 568.3 686.2 573.4 704.5 C578.5 722.8 579.4 730.5 580.6 735.7" fill="none" stroke="#ff0000" stroke-width="1.4" stroke-dasharray="11 6"/>
<g clip-path="url(#cw)">
<path d="M784.7 133.3 V890" stroke="#888" stroke-width="1" fill="none"/>
<circle cx="784.8" cy="182.8" r="2.3" fill="#000"/>
<circle cx="784.8" cy="260.3" r="2.3" fill="#000"/>
<circle cx="784.8" cy="339.6" r="2.3" fill="#000"/>
<circle cx="784.8" cy="416.6" r="2.3" fill="#000"/>
<circle cx="784.8" cy="492.2" r="2.3" fill="#000"/>
<circle cx="784.8" cy="565.4" r="2.3" fill="#000"/>
<circle cx="784.8" cy="635.2" r="2.3" fill="#000"/>
<circle cx="784.8" cy="662.3" r="2.3" fill="#000"/>
<circle cx="784.8" cy="689.1" r="2.3" fill="#000"/>
<circle cx="784.8" cy="715.7" r="2.3" fill="#000"/>
<circle cx="784.8" cy="741.5" r="2.3" fill="#000"/>
<circle cx="784.8" cy="767.1" r="2.3" fill="#000"/>
<circle cx="784.8" cy="779.8" r="2.3" fill="#000"/>
<circle cx="784.8" cy="792.2" r="2.3" fill="#000"/>
<circle cx="784.8" cy="804.7" r="2.3" fill="#000"/>
<circle cx="784.8" cy="817.2" r="2.3" fill="#000"/>
<circle cx="784.8" cy="829.1" r="2.3" fill="#000"/>
<circle cx="784.8" cy="841.5" r="2.3" fill="#000"/>
<circle cx="784.8" cy="853.5" r="2.3" fill="#000"/>
<circle cx="784.8" cy="865.8" r="2.3" fill="#000"/>
<circle cx="784.8" cy="877.5" r="2.3" fill="#000"/>
<circle cx="784.8" cy="889.4" r="2.3" fill="#000"/>
<circle cx="784.8" cy="133.1" r="3.8" fill="none" stroke="#333" stroke-width="1"/>
<circle cx="784.8" cy="265.5" r="3.8" fill="none" stroke="#333" stroke-width="1"/>
<circle cx="784.8" cy="359.5" r="3.8" fill="none" stroke="#333" stroke-width="1"/>
<circle cx="784.8" cy="432.4" r="3.8" fill="none" stroke="#333" stroke-width="1"/>
<circle cx="784.8" cy="491.9" r="3.8" fill="none" stroke="#333" stroke-width="1"/>
<circle cx="784.8" cy="585.8" r="3.8" fill="none" stroke="#333" stroke-width="1"/>
<circle cx="784.8" cy="658.7" r="3.8" fill="none" stroke="#333" stroke-width="1"/>
<circle cx="784.8" cy="768.6" r="3.8" fill="none" stroke="#333" stroke-width="1"/>
<circle cx="784.8" cy="832.0" r="3.8" fill="none" stroke="#333" stroke-width="1"/>
<circle cx="784.8" cy="885.1" r="3.8" fill="none" stroke="#333" stroke-width="1"/>
<path d="M784.6 168.5 L777.0 133.8" fill="none" stroke="#222" stroke-width="1"/>
<path d="M784.6 227.4 L751.6 240.3 L742.3 232.3" fill="none" stroke="#222" stroke-width="1"/>
<path d="M754.0 238.3 L750.1 235.2" fill="none" stroke="#222" stroke-width="1"/>
<path d="M784.6 285.4 L752.6 299.4 L742.3 292.0" fill="none" stroke="#222" stroke-width="1"/>
<path d="M755.0 297.9 L745.7 290.6" fill="none" stroke="#222" stroke-width="1"/>
<path d="M784.6 342.5 L750.6 350.8 L742.3 342.0" fill="none" stroke="#222" stroke-width="1"/>
<path d="M755.0 349.3 L745.3 341.0" fill="none" stroke="#222" stroke-width="1"/>
<path d="M784.6 397.3 L749.6 402.5 L742.3 392.9" fill="none" stroke="#222" stroke-width="1"/>
<path d="M753.0 402.2 L749.2 397.3" fill="none" stroke="#222" stroke-width="1"/>
<path d="M784.6 450.4 L756.0 429.6 L757.7 417.3" fill="none" stroke="#222" stroke-width="1"/>
<path d="M784.6 501.5 L793.6 467.1 L805.3 464.2" fill="none" stroke="#222" stroke-width="1"/>
<path d="M793.1 470.1 L799.0 469.1" fill="none" stroke="#222" stroke-width="1"/>
<path d="M784.6 551.1 L809.2 527.4 L821.4 529.3" fill="none" stroke="#222" stroke-width="1"/>
<path d="M809.2 528.8 L813.6 530.3" fill="none" stroke="#222" stroke-width="1"/>
<path d="M784.6 599.1 L813.6 584.2 L826.8 589.5" fill="none" stroke="#222" stroke-width="1"/>
<path d="M811.0 585.5 L823.4 591.0" fill="none" stroke="#222" stroke-width="1"/>
<path d="M784.6 645.5 L820.0 640.8 L827.3 650.6" fill="none" stroke="#222" stroke-width="1"/>
<path d="M817.5 641.8 L820.4 646.2" fill="none" stroke="#222" stroke-width="1"/>
<path d="M784.6 691.1 L814.1 694.7 L824.4 707.9" fill="none" stroke="#222" stroke-width="1"/>
<path d="M784.6 735.7 L820.5 730.1 L827.3 739.6" fill="none" stroke="#222" stroke-width="1"/>
<path d="M817.0 731.3 L823.4 740.6" fill="none" stroke="#222" stroke-width="1"/>
<path d="M814.0 732.0 L816.5 736.0" fill="none" stroke="#222" stroke-width="1"/>
<path d="M784.6 768.1 L819.5 760.1 L827.3 768.6" fill="none" stroke="#222" stroke-width="1"/>
<path d="M816.5 761.0 L823.9 769.5" fill="none" stroke="#222" stroke-width="1"/>
<path d="M813.6 761.7 L820.0 771.0" fill="none" stroke="#222" stroke-width="1"/>
<path d="M784.8 791.5 L819.5 783.2 L827.3 792.5" fill="none" stroke="#222" stroke-width="1"/>
<path d="M816.1 784.0 L823.9 792.9" fill="none" stroke="#222" stroke-width="1"/>
<path d="M813.1 784.7 L816.5 789.0" fill="none" stroke="#222" stroke-width="1"/>
<path d="M784.8 812.3 L820.0 805.2 L827.3 814.0" fill="none" stroke="#222" stroke-width="1"/>
<path d="M816.6 806.0 L823.9 814.6" fill="none" stroke="#222" stroke-width="1"/>
<path d="M784.8 832.0 L820.4 836.4 L824.4 847.7" fill="none" stroke="#222" stroke-width="1"/>
<path d="M784.8 853.3 L795.0 880.6" fill="none" stroke="#222" stroke-width="1"/>
<path d="M795.0 878.5 L790.0 882.0" fill="none" stroke="#222" stroke-width="1"/>
<path d="M784.5 865.8 L773.5 914.2" fill="none" stroke="#222" stroke-width="1"/>
<path d="M785.3 851 L773.4 914.4 M783.3 858 L771.4 913 M787.3 858 L776.6 909" stroke="#333" stroke-width="0.9" fill="none"/>
<path d="M782.0 854.5 L788.0 861.5" stroke="#333" stroke-width="0.8"/>
<path d="M781.3 858.0 L787.3 865.0" stroke="#333" stroke-width="0.8"/>
<path d="M780.5 861.4 L786.5 868.4" stroke="#333" stroke-width="0.8"/>
<path d="M779.8 864.9 L785.8 871.9" stroke="#333" stroke-width="0.8"/>
<path d="M779.1 868.4 L785.1 875.4" stroke="#333" stroke-width="0.8"/>
<path d="M778.3 871.8 L784.3 878.8" stroke="#333" stroke-width="0.8"/>
<path d="M777.6 875.3 L783.6 882.3" stroke="#333" stroke-width="0.8"/>
<path d="M776.9 878.8 L782.9 885.8" stroke="#333" stroke-width="0.8"/>
<path d="M776.1 882.2 L782.1 889.2" stroke="#333" stroke-width="0.8"/>
<path d="M775.4 885.7 L781.4 892.7" stroke="#333" stroke-width="0.8"/>
<path d="M774.7 889.2 L780.7 896.2" stroke="#333" stroke-width="0.8"/>
<path d="M773.9 892.6 L779.9 899.6" stroke="#333" stroke-width="0.8"/>
<path d="M773.2 896.1 L779.2 903.1" stroke="#333" stroke-width="0.8"/>
<path d="M772.5 899.6 L778.5 906.6" stroke="#333" stroke-width="0.8"/>
<path d="M771.7 903.0 L777.7 910.0" stroke="#333" stroke-width="0.8"/>
<path d="M771.0 906.5 L777.0 913.5" stroke="#333" stroke-width="0.8"/>
<path d="M761 892.9 Q766 890.4 774.5 891.4" fill="none" stroke="#444" stroke-width="0.9"/>
<path d="M761 898.4 Q766 895.9 773.5 896.9" fill="none" stroke="#444" stroke-width="0.9"/>
<path d="M761 904.2 Q766 901.7 773.0 902.7" fill="none" stroke="#444" stroke-width="0.9"/>
<path d="M761 908.9 Q766 906.4 772.5 907.4" fill="none" stroke="#444" stroke-width="0.9"/>
<path d="M761 912.8 Q766 910.3 772.0 911.3" fill="none" stroke="#444" stroke-width="0.9"/>
</g>
<path d="M870.6 132.7 V901" stroke="#000" stroke-width="1" fill="none"/>
<g font-size="19.5" fill="#000">
<path d="M870.6 889.4 H881" stroke="#555" stroke-width="1"/>
<text x="894" y="896.2">0</text>
<path d="M870.6 850.2 H881" stroke="#555" stroke-width="1"/>
<text x="894" y="857.0">1</text>
<path d="M870.6 810.1 H881" stroke="#555" stroke-width="1"/>
<text x="894" y="816.9">2</text>
<path d="M870.6 769.1 H881" stroke="#555" stroke-width="1"/>
<text x="894" y="775.9">3</text>
<path d="M870.6 727.1 H881" stroke="#555" stroke-width="1"/>
<text x="894" y="733.9">4</text>
<path d="M870.6 684.0 H881" stroke="#555" stroke-width="1"/>
<text x="894" y="690.8">5</text>
<path d="M870.6 639.8 H881" stroke="#555" stroke-width="1"/>
<text x="894" y="646.6">6</text>
<path d="M870.6 594.4 H881" stroke="#555" stroke-width="1"/>
<text x="894" y="601.2">7</text>
<path d="M870.6 547.8 H881" stroke="#555" stroke-width="1"/>
<text x="894" y="554.6">8</text>
<path d="M870.6 499.9 H881" stroke="#555" stroke-width="1"/>
<text x="894" y="506.7">9</text>
<path d="M870.6 450.6 H881" stroke="#555" stroke-width="1"/>
<text x="894" y="457.4">10</text>
<path d="M870.6 400.4 H881" stroke="#555" stroke-width="1"/>
<text x="894" y="407.2">11</text>
<path d="M870.6 349.4 H881" stroke="#555" stroke-width="1"/>
<text x="894" y="356.2">12</text>
<path d="M870.6 297.9 H881" stroke="#555" stroke-width="1"/>
<text x="894" y="304.7">13</text>
<path d="M870.6 246.4 H881" stroke="#555" stroke-width="1"/>
<text x="894" y="253.2">14</text>
<path d="M870.6 194.9 H881" stroke="#555" stroke-width="1"/>
<text x="894" y="201.7">15</text>
<path d="M870.6 143.4 H881" stroke="#555" stroke-width="1"/>
<text x="894" y="150.2">16</text>
</g>
<text transform="translate(848 542.1) rotate(90)" text-anchor="middle" font-size="19.5" fill="#000">Height (Km)</text>
<text x="384.4" y="109.2" text-anchor="middle" font-size="21.3" fill="#000">GAYA at 2018-09-22_00:00:00</text>
<text x="385" y="127.9" text-anchor="middle" font-size="10.5" fill="#a0522d">Plcl=881 Tlcl[C]=19 Shox=-1 Pwat[cm]=5 Cape[J]= 533</text>
<text x="486.5" y="964.2" text-anchor="middle" font-size="17.8" fill="#000">Temperature (C)</text>
<text transform="translate(53.4 537.6) rotate(-90)" text-anchor="middle" font-size="17.5" fill="#000">P (hPa)</text>
</svg></body></html>
